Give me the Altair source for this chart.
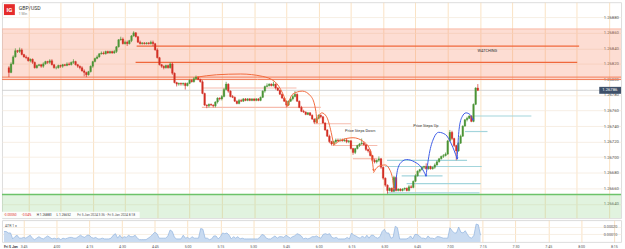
import altair as alt
import pandas as pd

FONT = "Roboto"
GREEN = "#4b9436"
RED = "#d32f24"

# ---------------- data (1-minute GBP/USD candles) ----------------
first_minute = 216          # 03:36, minutes after midnight
first_open = 1.26815

close = [
    1.26809, 1.26820, 1.26829, 1.26837, 1.26836, 1.26838, 1.26832, 1.26829, 1.26828, 1.26824,
    1.26826, 1.26822, 1.26815, 1.26818, 1.26819, 1.26817, 1.26820, 1.26823, 1.26822, 1.26824,
    1.26819, 1.26815, 1.26815, 1.26818, 1.26817, 1.26819, 1.26818, 1.26820, 1.26819, 1.26822,
    1.26823, 1.26819, 1.26817, 1.26815, 1.26811, 1.26809, 1.26806, 1.26810, 1.26817, 1.26823,
    1.26827, 1.26829, 1.26833, 1.26834, 1.26833, 1.26836, 1.26834, 1.26836, 1.26834, 1.26836,
    1.26842, 1.26851, 1.26852, 1.26846, 1.26848, 1.26846, 1.26850, 1.26856, 1.26860, 1.26855,
    1.26848, 1.26846, 1.26847, 1.26846, 1.26847, 1.26846, 1.26848, 1.26846, 1.26838, 1.26828,
    1.26819, 1.26817, 1.26815, 1.26818, 1.26815, 1.26820, 1.26808, 1.26796, 1.26794, 1.26795,
    1.26794, 1.26795, 1.26792, 1.26795, 1.26799, 1.26797, 1.26801, 1.26803, 1.26800, 1.26797,
    1.26782, 1.26767, 1.26766, 1.26768, 1.26767, 1.26766, 1.26771, 1.26776, 1.26775, 1.26778,
    1.26787, 1.26794, 1.26785, 1.26778, 1.26777, 1.26772, 1.26769, 1.26773, 1.26772, 1.26775,
    1.26773, 1.26775, 1.26773, 1.26775, 1.26773, 1.26775, 1.26773, 1.26777, 1.26785, 1.26791,
    1.26792, 1.26794, 1.26792, 1.26794, 1.26789, 1.26786, 1.26781, 1.26776, 1.26772, 1.26767,
    1.26772, 1.26775, 1.26778, 1.26781, 1.26772, 1.26764, 1.26759, 1.26758, 1.26755, 1.26757,
    1.26754, 1.26749, 1.26745, 1.26750, 1.26754, 1.26752, 1.26744, 1.26735, 1.26727, 1.26720,
    1.26717, 1.26720, 1.26722, 1.26721, 1.26722, 1.26721, 1.26722, 1.26720, 1.26721, 1.26711,
    1.26706, 1.26711, 1.26715, 1.26717, 1.26718, 1.26716, 1.26710, 1.26708, 1.26702, 1.26696,
    1.26694, 1.26696, 1.26698, 1.26687, 1.26673, 1.26664, 1.26657, 1.26660, 1.26656, 1.26674,
    1.26657, 1.26659, 1.26657, 1.26659, 1.26660, 1.26657, 1.26662, 1.26661, 1.26669, 1.26676,
    1.26682, 1.26684, 1.26687, 1.26688, 1.26685, 1.26688, 1.26685, 1.26687, 1.26690, 1.26694,
    1.26698, 1.26701, 1.26702, 1.26704, 1.26721, 1.26732, 1.26724, 1.26715, 1.26708, 1.26718,
    1.26727, 1.26740, 1.26748, 1.26750, 1.26753, 1.26746, 1.26768, 1.26789, 1.26786,
]

high = [
    1.26817, 1.26822, 1.26831, 1.26840, 1.26838, 1.26841, 1.26840, 1.26833, 1.26831, 1.26829,
    1.26827, 1.26827, 1.26823, 1.26819, 1.26820, 1.26820, 1.26822, 1.26824, 1.26824, 1.26826,
    1.26826, 1.26820, 1.26817, 1.26819, 1.26819, 1.26820, 1.26820, 1.26822, 1.26822, 1.26823,
    1.26826, 1.26824, 1.26820, 1.26818, 1.26817, 1.26813, 1.26810, 1.26811, 1.26818, 1.26824,
    1.26828, 1.26831, 1.26834, 1.26836, 1.26836, 1.26837, 1.26837, 1.26837, 1.26837, 1.26838,
    1.26843, 1.26852, 1.26855, 1.26854, 1.26850, 1.26850, 1.26851, 1.26857, 1.26862, 1.26861,
    1.26856, 1.26850, 1.26848, 1.26848, 1.26848, 1.26848, 1.26850, 1.26850, 1.26847, 1.26840,
    1.26829, 1.26820, 1.26818, 1.26819, 1.26819, 1.26822, 1.26822, 1.26809, 1.26797, 1.26796,
    1.26796, 1.26796, 1.26796, 1.26796, 1.26800, 1.26800, 1.26803, 1.26805, 1.26804, 1.26801,
    1.26799, 1.26783, 1.26768, 1.26769, 1.26769, 1.26768, 1.26772, 1.26777, 1.26777, 1.26780,
    1.26789, 1.26797, 1.26795, 1.26786, 1.26780, 1.26778, 1.26773, 1.26775, 1.26775, 1.26776,
    1.26776, 1.26776, 1.26776, 1.26776, 1.26776, 1.26776, 1.26776, 1.26778, 1.26786, 1.26792,
    1.26795, 1.26795, 1.26795, 1.26797, 1.26795, 1.26790, 1.26787, 1.26782, 1.26777, 1.26773,
    1.26773, 1.26776, 1.26780, 1.26785, 1.26782, 1.26773, 1.26766, 1.26761, 1.26759, 1.26758,
    1.26758, 1.26755, 1.26750, 1.26752, 1.26755, 1.26755, 1.26753, 1.26745, 1.26736, 1.26729,
    1.26721, 1.26721, 1.26724, 1.26724, 1.26724, 1.26724, 1.26724, 1.26724, 1.26722, 1.26722,
    1.26712, 1.26712, 1.26716, 1.26718, 1.26724, 1.26720, 1.26717, 1.26711, 1.26710, 1.26703,
    1.26698, 1.26697, 1.26701, 1.26699, 1.26688, 1.26674, 1.26665, 1.26661, 1.26661, 1.26676,
    1.26675, 1.26660, 1.26660, 1.26660, 1.26661, 1.26661, 1.26664, 1.26664, 1.26670, 1.26678,
    1.26683, 1.26685, 1.26688, 1.26689, 1.26692, 1.26689, 1.26689, 1.26688, 1.26692, 1.26696,
    1.26699, 1.26702, 1.26704, 1.26706, 1.26722, 1.26735, 1.26734, 1.26725, 1.26716, 1.26720,
    1.26729, 1.26741, 1.26749, 1.26752, 1.26754, 1.26754, 1.26769, 1.26790, 1.26794,
]

low = [
    1.26803, 1.26808, 1.26819, 1.26828, 1.26834, 1.26834, 1.26831, 1.26828, 1.26826, 1.26823,
    1.26822, 1.26820, 1.26814, 1.26814, 1.26817, 1.26815, 1.26815, 1.26819, 1.26820, 1.26820,
    1.26818, 1.26814, 1.26813, 1.26814, 1.26815, 1.26815, 1.26817, 1.26817, 1.26818, 1.26818,
    1.26820, 1.26818, 1.26815, 1.26813, 1.26810, 1.26804, 1.26803, 1.26805, 1.26809, 1.26815,
    1.26822, 1.26826, 1.26828, 1.26832, 1.26832, 1.26832, 1.26833, 1.26833, 1.26833, 1.26833,
    1.26834, 1.26841, 1.26850, 1.26845, 1.26845, 1.26843, 1.26845, 1.26848, 1.26855, 1.26854,
    1.26847, 1.26845, 1.26845, 1.26845, 1.26845, 1.26845, 1.26845, 1.26843, 1.26837, 1.26827,
    1.26818, 1.26815, 1.26813, 1.26814, 1.26814, 1.26814, 1.26806, 1.26795, 1.26791, 1.26792,
    1.26792, 1.26792, 1.26787, 1.26791, 1.26794, 1.26796, 1.26796, 1.26800, 1.26799, 1.26796,
    1.26781, 1.26766, 1.26763, 1.26764, 1.26766, 1.26764, 1.26764, 1.26769, 1.26773, 1.26773,
    1.26777, 1.26786, 1.26783, 1.26777, 1.26776, 1.26771, 1.26768, 1.26768, 1.26771, 1.26771,
    1.26772, 1.26772, 1.26772, 1.26772, 1.26772, 1.26772, 1.26772, 1.26772, 1.26776, 1.26783,
    1.26790, 1.26791, 1.26791, 1.26791, 1.26787, 1.26785, 1.26780, 1.26775, 1.26771, 1.26764,
    1.26766, 1.26771, 1.26773, 1.26777, 1.26771, 1.26763, 1.26758, 1.26757, 1.26754, 1.26754,
    1.26753, 1.26748, 1.26743, 1.26744, 1.26749, 1.26750, 1.26743, 1.26734, 1.26726, 1.26718,
    1.26715, 1.26716, 1.26718, 1.26720, 1.26720, 1.26720, 1.26720, 1.26718, 1.26718, 1.26710,
    1.26703, 1.26704, 1.26710, 1.26713, 1.26716, 1.26715, 1.26708, 1.26706, 1.26701, 1.26694,
    1.26692, 1.26692, 1.26694, 1.26685, 1.26671, 1.26662, 1.26653, 1.26656, 1.26655, 1.26655,
    1.26656, 1.26656, 1.26656, 1.26656, 1.26657, 1.26656, 1.26656, 1.26660, 1.26660, 1.26668,
    1.26675, 1.26680, 1.26683, 1.26685, 1.26684, 1.26684, 1.26684, 1.26684, 1.26685, 1.26689,
    1.26693, 1.26697, 1.26699, 1.26701, 1.26703, 1.26720, 1.26722, 1.26713, 1.26696, 1.26707,
    1.26717, 1.26726, 1.26739, 1.26746, 1.26749, 1.26745, 1.26745, 1.26767, 1.26785,
]

price_ticks = [1.26640, 1.26660, 1.26680, 1.26700, 1.26720, 1.26740, 1.26760,
               1.26780, 1.26800, 1.26820, 1.26840, 1.26860, 1.26880]
atr_ticks = [0.00010, 0.00020, 0.00030]
time_ticks = list(range(225, 496, 15))   # 3:45 ... 8:15 (minutes after midnight)

# zones and levels
zone_top = [1.26865, 1.26652]
zone_bottom = [1.26800, 1.266216]
zone_col = ["#f8805e", "#8fd48a"]
full_levels = [1.26865, 1.26803, 1.26800, 1.26652]
level_col = ["#f9b9a6", "#f37b57", "#f37b57", "#6cc36a"]
level_w = [1.0, 1.0, 1.0, 1.4]
last_price = 1.26786
watch_p = [1.26843, 1.26822]
watch_t0 = [275.4, 274.9]
watch_t1 = [481.1, 480.2]

down_p = [1.26789, 1.26764, 1.26743, 1.26715, 1.26698]
down_t0 = [305.7, 305.7, 357.8, 366.4, 375.9]
down_t1 = [349.7, 361.0, 375.0, 387.3, 387.3]
up_p = [1.26696, 1.26688, 1.26676, 1.26666, 1.26654, 1.26733, 1.26753]
up_t0 = [391.8, 390.9, 398.6, 400.9, 391.8, 428.0, 431.7]
up_t1 = [429.0, 435.8, 417.6, 435.3, 434.8, 438.5, 458.9]

arc_id = (["A1"] * 7 + ["A2"] * 6 + ["A3"] * 6 + ["A4"] * 6 + ["A5"] * 6
          + ["B1"] * 7 + ["B2"] * 7 + ["B3"] * 6)
arc_t = [303.4, 312.5, 323.8, 333.8, 339.7, 343.3, 345.6,
         345.6, 347.9, 352.4, 356.5, 358.7, 359.2,
         359.2, 360.1, 361.5, 363.7, 365.5, 366.9,
         366.9, 370.5, 376.0, 380.9, 384.1, 385.5,
         385.5, 387.7, 390.9, 393.2, 394.5, 395.0,
         395.4, 396.8, 398.6, 400.9, 404.5, 407.7, 409.9,
         409.9, 411.7, 413.6, 415.8, 419.0, 421.7, 424.4,
         424.4, 425.3, 426.7, 428.5, 430.3, 431.7]
arc_p = [1.26803, 1.26806, 1.26807, 1.26804, 1.26797, 1.26782, 1.26766,
         1.26766, 1.26781, 1.26785, 1.26778, 1.26759, 1.26744,
         1.26744, 1.26753, 1.26757, 1.26752, 1.26736, 1.26717,
         1.26715, 1.26722, 1.26725, 1.26720, 1.26708, 1.26683,
         1.26680, 1.26688, 1.26690, 1.26683, 1.26670, 1.26659,
         1.26657, 1.26685, 1.26694, 1.26697, 1.26694, 1.26687, 1.26676,
         1.26676, 1.26708, 1.26725, 1.26732, 1.26729, 1.26717, 1.26698,
         1.26698, 1.26736, 1.26752, 1.26757, 1.26755, 1.26748]

notes = ["Price Steps Down", "Price Steps Up", "WATCHING"]
note_t = [372.3, 404.0, 433.9]
note_p = [1.26734, 1.26740, 1.26836]

# ---------------- tables ----------------
n = len(close)
minute = [first_minute + i for i in range(n)]
prev_close = [first_open] + close[:-1]
candles = pd.DataFrame({"t": minute, "open": prev_close, "high": high,
                        "low": low, "close": close})
atr_vals = [max(h, pc) - min(l, pc) for h, l, pc in zip(high, low, prev_close)]
atr_df = pd.DataFrame({"t": minute, "atr": atr_vals})

zones = pd.DataFrame({"top": zone_top, "bottom": zone_bottom, "col": zone_col})
levels = pd.DataFrame({"p": full_levels, "col": level_col, "w": level_w})
watch = pd.DataFrame({"p": watch_p, "t": watch_t0, "t1": watch_t1})
steps = pd.DataFrame({
    "p": down_p + up_p,
    "t": down_t0 + up_t0,
    "t1": down_t1 + up_t1,
    "col": ["#f6bcae"] * len(down_p) + ["#a3d5dc"] * len(up_p),
})
arcs = pd.DataFrame({"arc": arc_id, "t": arc_t, "p": arc_p})
arcs["col"] = arcs["arc"].str[0].map({"A": "#f26a3d", "B": "#3e5ce6"})
arc_ends = arcs.groupby("arc").tail(1)
notes_df = pd.DataFrame({"label": notes, "t": note_t, "p": note_p})
last_df = pd.DataFrame({"p": [last_price], "label": [f"{last_price:.5f}"]})
one = pd.DataFrame({"a": [0]})

# ---------------- scales / axes ----------------
W, H_MAIN, H_ATR = 625, 218, 22
xs = alt.Scale(domain=[215.09, 498.28], nice=False, zero=False)
ys = alt.Scale(domain=[1.266216, 1.268994], nice=False, zero=False)
GRID_V = "#f9dcb6"

x_top_axis = alt.Axis(values=time_ticks, labels=False, ticks=False, domain=False,
                      grid=True, gridColor=GRID_V, gridWidth=0.8, title=None)
y_top_axis = alt.Axis(orient="right", offset=-18, values=price_ticks, format=".5f",
                      labelFontSize=4.2, labelColor="#555", labelFont=FONT,
                      labelPadding=0, ticks=False, domain=False, grid=True,
                      gridColor="#f5ebde", gridWidth=0.8, title=None)

X = alt.X("t:Q", scale=xs, axis=x_top_axis)


def Y(f):
    return alt.Y(f"{f}:Q", scale=ys, axis=y_top_axis)


COL = alt.Color("col:N", scale=None)

zone_layer = alt.Chart(zones).mark_rect(opacity=0.27).encode(
    x=alt.value(0), x2=alt.value(W), y=Y("top"), y2="bottom", color=COL)
level_layer = alt.Chart(levels).mark_rule().encode(
    x=alt.value(0), x2=alt.value(W), y=Y("p"), color=COL,
    strokeWidth=alt.StrokeWidth("w:Q", scale=None))
last_line = alt.Chart(last_df).mark_rule(strokeWidth=0.9, color="#cfcfcf").encode(
    x=alt.value(0), x2=alt.value(W), y=Y("p"))
watch_layer = alt.Chart(watch).mark_rule(strokeWidth=1.3, color="#f0683c").encode(
    x=X, x2="t1:Q", y=Y("p"))
step_layer = alt.Chart(steps).mark_rule(strokeWidth=1.2).encode(
    x=X, x2="t1:Q", y=Y("p"), color=COL)

up_cond = alt.condition("datum.close >= datum.open", alt.value(GREEN), alt.value(RED))
wicks = alt.Chart(candles).mark_rule(strokeWidth=0.7).encode(
    x=X, y=Y("low"), y2="high", color=up_cond)
bodies = alt.Chart(candles).mark_bar(size=1.7, strokeWidth=0.3).encode(
    x=X, y=Y("open"), y2="close", color=up_cond, stroke=up_cond)

arc_layer = alt.Chart(arcs).mark_line(interpolate="monotone", strokeWidth=1).encode(
    x=X, y=Y("p"), detail="arc:N", color=COL)
arrow_layer = alt.Chart(arc_ends).mark_point(shape="triangle-down", filled=True,
                                              size=7, opacity=1).encode(
    x=X, y=Y("p"), color=COL)

note_layer = alt.Chart(notes_df).mark_text(align="left", baseline="middle",
                                           fontSize=3.9, font=FONT, color="#333").encode(
    x=X, y=Y("p"), text="label:N")

tag_rule = alt.Chart(last_df).mark_rule(strokeWidth=7, color="#3f516a", strokeCap="butt").encode(
    x=alt.value(603), x2=alt.value(W), y=Y("p"))
tag_text = alt.Chart(last_df).mark_text(align="left", baseline="middle", fontSize=4.2,
                                        font=FONT, color="white").encode(
    x=alt.value(606), y=Y("p"), text="label:N")

# header & info bar (static chrome)
logo = alt.Chart(one).mark_rect(color="#e52b2b").encode(
    x=alt.value(2), x2=alt.value(13), y=alt.value(2), y2=alt.value(13))
logo_txt = alt.Chart(one).mark_text(text="IG", fontSize=6, fontWeight="bold", font=FONT,
                                    color="white", align="center", baseline="middle").encode(
    x=alt.value(7.5), y=alt.value(7.8))
title_txt = alt.Chart(one).mark_text(text="GBP/USD", fontSize=5.2, font=FONT, color="#333",
                                     align="left", baseline="middle").encode(
    x=alt.value(17), y=alt.value(5.5))
sub_txt = alt.Chart(one).mark_text(text="1 Min", fontSize=3.4, font=FONT, color="#888",
                                   align="left", baseline="middle").encode(
    x=alt.value(17), y=alt.value(11.5))
info_bg = alt.Chart(one).mark_rect(color="white", opacity=0.9).encode(
    x=alt.value(0), x2=alt.value(139), y=alt.value(211.5), y2=alt.value(218))
info_items = pd.DataFrame({
    "label": ["-0.00050", "-0.04%", "H 1.26883", "L 1.26652",
              "Fri 5 Jan 2024 3:36 - Fri 5 Jan 2024 8:18"],
    "px": [2, 20, 35, 55, 76],
    "col": ["#e0302a", "#e0302a", "#333333", "#333333", "#555555"],
})
info_txt = alt.Chart(info_items).mark_text(align="left", baseline="middle", fontSize=3.3,
                                           font=FONT).encode(
    x=alt.X("px:Q", scale=None), y=alt.value(214.8), text="label:N", color=COL)

top = alt.layer(
    zone_layer, level_layer, last_line, watch_layer, step_layer,
    wicks, bodies, arc_layer, arrow_layer, note_layer, tag_rule, tag_text,
    logo, logo_txt, title_txt, sub_txt, info_bg, info_txt,
).properties(width=W, height=H_MAIN)

# ---------------- ATR panel ----------------
x_bot_axis = alt.Axis(values=time_ticks, ticks=False, domain=False, grid=True,
                      gridColor=GRID_V, gridWidth=0.8, title=None, labelFontSize=3.6,
                      labelColor="#555", labelFont=FONT, labelPadding=3, labelFlush=False,
                      labelExpr="floor(datum.value/60) + ':' + (datum.value % 60 < 10 ? '0' : '') + (datum.value % 60)")
y_bot_axis = alt.Axis(orient="right", offset=-18, values=atr_ticks, format=".5f",
                      labelFontSize=3.8, labelColor="#555", labelFont=FONT, labelPadding=0,
                      ticks=False, domain=False, grid=True, gridColor="#f5ebde",
                      gridWidth=0.8, title=None)
atr_area = alt.Chart(atr_df).mark_area(
    color="#c3d7f0", opacity=0.9, line={"color": "#8fb2de", "strokeWidth": 0.7}
).encode(
    x=alt.X("t:Q", scale=xs, axis=x_bot_axis),
    y=alt.Y("atr:Q", scale=alt.Scale(domain=[0, 0.000293], nice=False, zero=False),
            axis=y_bot_axis),
)
atr_lbl = alt.Chart(one).mark_text(text="ATR  1  \u00d7", fontSize=3.6, font=FONT,
                                   color="#555", align="left", baseline="middle").encode(
    x=alt.value(3), y=alt.value(6))
day_lbl = alt.Chart(one).mark_text(text="Fri 5 Jan", fontSize=3.6, font=FONT, fontWeight="bold",
                                   color="#444", align="left", baseline="middle").encode(
    x=alt.value(2), y=alt.value(27))
bottom = alt.layer(atr_area, atr_lbl, day_lbl).properties(width=W, height=H_ATR)

chart = alt.vconcat(top, bottom, spacing=0).properties(
    padding=0, background="white"
).configure_view(stroke=None).configure(font=FONT)

chart.save("out.html", embed_options={"renderer": "svg", "actions": False})
